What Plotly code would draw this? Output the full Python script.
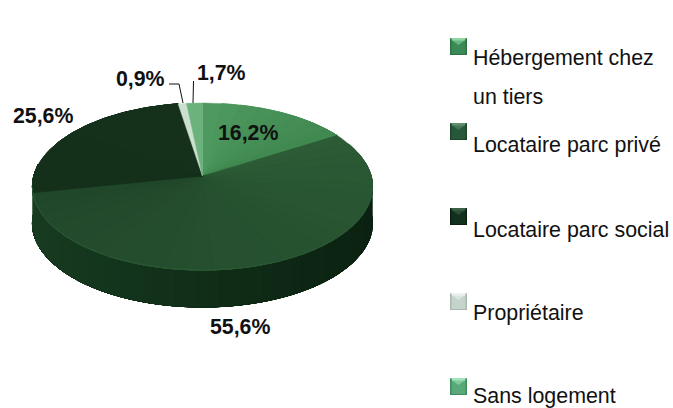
import numpy as np
import plotly.graph_objects as go

legend_lines = [["Hébergement chez", "un tiers"], ["Locataire parc privé"], ["Locataire parc social"], ["Propriétaire"], ["Sans logement"]]
# clockwise from 12 o'clock
slice_names = ["Hébergement chez un tiers", "Locataire parc privé", "Locataire parc social", "Propriétaire", "Sans logement"]
values = [16.2, 55.6, 25.6, 0.9, 1.7]
value_labels = ["16,2%", "55,6%", "25,6%", "0,9%", "1,7%"]

W, H = 673, 408
CX, CY, A, B, K, DEPTH = 202.5, 176.0, 82.2, 168.7, 0.126, 37.0
FACE_START = ["#4f9a60", "#2c5b35", "#14301b", "#dcebdd", "#74b985"]
FACE_END = ["#3f8850", "#21472a", "#15311c", "#bcd6c2", "#62aa75"]
LEG_BASE = ["#3a8a55", "#28583a", "#12301d", "#c4d4cb", "#58a878"]
LEG_TOP = ["#8fd8a4", "#5f8f6c", "#3c6048", "#eef3ef", "#a4e4bc"]
LEG_SIDE = ["#2c7044", "#1e4429", "#0c2012", "#a8b8ae", "#408a5e"]


def project(theta):
    u, v = np.sin(theta), np.cos(theta)
    d = 1 + K * v
    return CX + B * u / d, CY - A * v / d


def hex2rgb(h):
    return np.array([int(h[i:i + 2], 16) for i in (1, 3, 5)], float)


def mix(c1, c2, t):
    r = hex2rgb(c1) * (1 - t) + hex2rgb(c2) * t
    return "rgb(%d,%d,%d)" % tuple(r.round())


fig = go.Figure()


def poly(xs, ys, color, name=None):
    fig.add_trace(go.Scatter(
        x=list(xs), y=list(ys), mode="lines", fill="toself", fillcolor=color,
        line=dict(color=color, width=0.5), showlegend=False,
        hoverinfo="text" if name else "skip", text=name,
    ))


# side wall: overlapping strips along the front arc (each painted to the arc's end, so no seams)
side_stops = [(0.0, "#0a1e10"), (0.35, "#0d2714"), (0.65, "#14351d"), (1.0, "#1b4023")]
START, END = 82, 278
steps = np.linspace(START, END, 60)
for i in range(len(steps) - 1):
    t = np.radians(np.linspace(steps[i], END, 80))
    x, y = project(t)
    xs = np.r_[x, x[::-1]]
    ys = np.r_[y, y[::-1] + DEPTH]
    f = (i + 0.5) / (len(steps) - 1)
    for (p0, c0), (p1, c1) in zip(side_stops, side_stops[1:]):
        if p0 <= f <= p1:
            col = mix(c0, c1, (f - p0) / (p1 - p0))
            break
    poly(xs, ys, col)

# top faces, built from the values (overlapping fans, no seams)
edges = np.cumsum([0] + values) / sum(values) * 2 * np.pi
for i, name in enumerate(slice_names):
    n = max(1, int(values[i] / 2))
    sub = np.linspace(edges[i], edges[i + 1], n + 1)
    for j in range(n):
        t = np.linspace(sub[j], edges[i + 1], 80)
        x, y = project(t)
        poly(np.r_[CX, x, CX], np.r_[CY, y, CY], mix(FACE_START[i], FACE_END[i], (j + 0.5) / n),
             f"{name}: {value_labels[i]}")

# front rim highlight
t = np.radians(np.linspace(110, 262, 60))
x, y = project(t)
fig.add_trace(go.Scatter(x=x, y=y, mode="lines", line=dict(color="#2b5a34", width=1),
                         showlegend=False, hoverinfo="skip"))

# leader lines
fig.add_trace(go.Scatter(x=[169, 179, 183], y=[84, 84, 103], mode="lines",
                         line=dict(color="#111", width=1), showlegend=False, hoverinfo="skip"))
fig.add_trace(go.Scatter(x=[193.5, 193], y=[81, 103], mode="lines",
                         line=dict(color="#111", width=1), showlegend=False, hoverinfo="skip"))

label_pos = [(248, 133), (240, 327), (43, 116), (140, 79), (221, 73)]
for lab, (lx, ly) in zip(value_labels, label_pos):
    fig.add_annotation(x=lx, y=ly, text=f"<b>{lab}</b>", showarrow=False,
                       font=dict(family="Liberation Sans", size=21.3, color="#111"),
                       xanchor="center", yanchor="middle")

# legend
swatch_y = [38, 123, 208, 293, 378]
text_y = [[58, 97], [145], [230], [313], [396]]
SX, SZ = 450, 17
for i in range(5):
    y0 = swatch_y[i]
    x0, x1, y1 = SX, SX + SZ, y0 + SZ
    fig.add_shape(type="rect", x0=x0, x1=x1, y0=y0, y1=y1, fillcolor=LEG_SIDE[i], line_width=0, layer="above")
    fig.add_shape(type="rect", x0=x0 + 1.5, x1=x1 - 1.5, y0=y0 + 2, y1=y1 - 1, fillcolor=LEG_BASE[i], line_width=0, layer="above")
    fig.add_shape(type="path", path=f"M{x0},{y0} L{x1},{y0} L{x1 - 3},{y0 + 3} L{x0 + SZ / 2},{y0 + 7} L{x0 + 3},{y0 + 3} Z",
                  fillcolor=mix(LEG_BASE[i], LEG_TOP[i], 0.55), line_width=0, layer="above")
    fig.add_shape(type="rect", x0=x0 + 2, x1=x1 - 2, y0=y0, y1=y0 + 2.5, fillcolor=LEG_TOP[i], line_width=0, layer="above")
    for line, ty in zip(legend_lines[i], text_y[i]):
        fig.add_annotation(x=473, y=ty, text=line, showarrow=False, xanchor="left", yanchor="middle",
                           xshift=-2, font=dict(family="Liberation Sans", size=21.4, color="#111"))

fig.update_layout(
    width=W, height=H, margin=dict(l=0, r=0, t=0, b=0),
    paper_bgcolor="white", plot_bgcolor="white", showlegend=False,
    xaxis=dict(range=[0, W], visible=False, fixedrange=True),
    yaxis=dict(range=[H, 0], visible=False, fixedrange=True),
)
fig.write_html("out.html", config={"displayModeBar": False},
               post_script="document.body.style.margin='0';document.documentElement.style.overflow='hidden';")
